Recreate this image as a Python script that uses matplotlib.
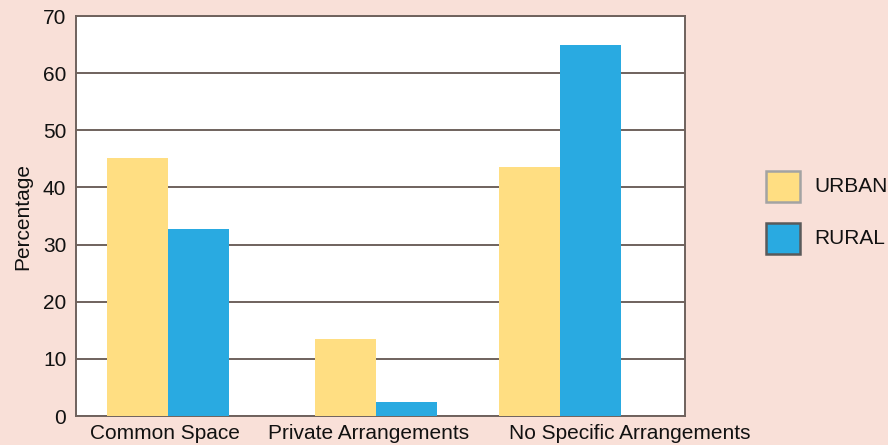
import matplotlib
matplotlib.use('Agg')
import matplotlib.pyplot as plt
from matplotlib.patches import Rectangle

BG       = '#f9e0d8'
URBAN_C  = '#ffde82'
RURAL_C  = '#29aae1'
LINE_C   = '#6f625d'

categories = ['Common Space', 'Private Arrangements', 'No Specific Arrangements']
urban      = [45.1, 13.4, 43.6]
rural      = [32.7, 2.4, 64.9]
series     = ['URBAN', 'RURAL']

# group centres and where each category label sits (bar-width units)
group_pos = [1.5, 4.92, 7.93]
label_pos = [1.46, 4.79, 9.07]
BAR_W = 1.0

plt.rcParams['font.family'] = ['Liberation Sans', 'DejaVu Sans']

fig = plt.figure(figsize=(8.88, 4.45), dpi=100, facecolor=BG)
ax = fig.add_axes([76 / 888, 1 - 416 / 445, 609 / 888, 400 / 445])
ax.set_facecolor('white')

ax.bar([p - BAR_W / 2 for p in group_pos], urban, BAR_W, color=URBAN_C, zorder=3)
ax.bar([p + BAR_W / 2 for p in group_pos], rural, BAR_W, color=RURAL_C, zorder=3)

ax.set_xlim(0, 9.98)
ax.set_ylim(0, 70)
ax.set_yticks(range(0, 71, 10))
ax.yaxis.grid(True, color=LINE_C, linewidth=1.4, zorder=1)
ax.set_axisbelow(True)

ax.set_xticks(label_pos)
ax.set_xticklabels(categories)
ax.tick_params(axis='both', length=0, labelsize=15, colors='#111111')
ax.tick_params(axis='y', pad=7)
ax.tick_params(axis='x', pad=6)
for sp in ax.spines.values():
    sp.set_color(LINE_C)
    sp.set_linewidth(1.4)

ax.set_ylabel('Percentage', fontsize=15, color='#111111', labelpad=8)

# legend boxes
boxes = [(171, URBAN_C, '#a3a3a3'), (223, RURAL_C, '#5a5a5a')]
for (top, fc, ec), name in zip(boxes, series):
    fig.add_artist(Rectangle((766 / 888, 1 - (top + 31) / 445), 34 / 888, 31 / 445,
                             facecolor=fc, edgecolor=ec, linewidth=1.8,
                             transform=fig.transFigure))
    fig.text(814 / 888, 1 - (top + 16) / 445, name, fontsize=15,
             va='center', ha='left', color='#111111')

fig.savefig('out.png', dpi=100, facecolor=BG)
